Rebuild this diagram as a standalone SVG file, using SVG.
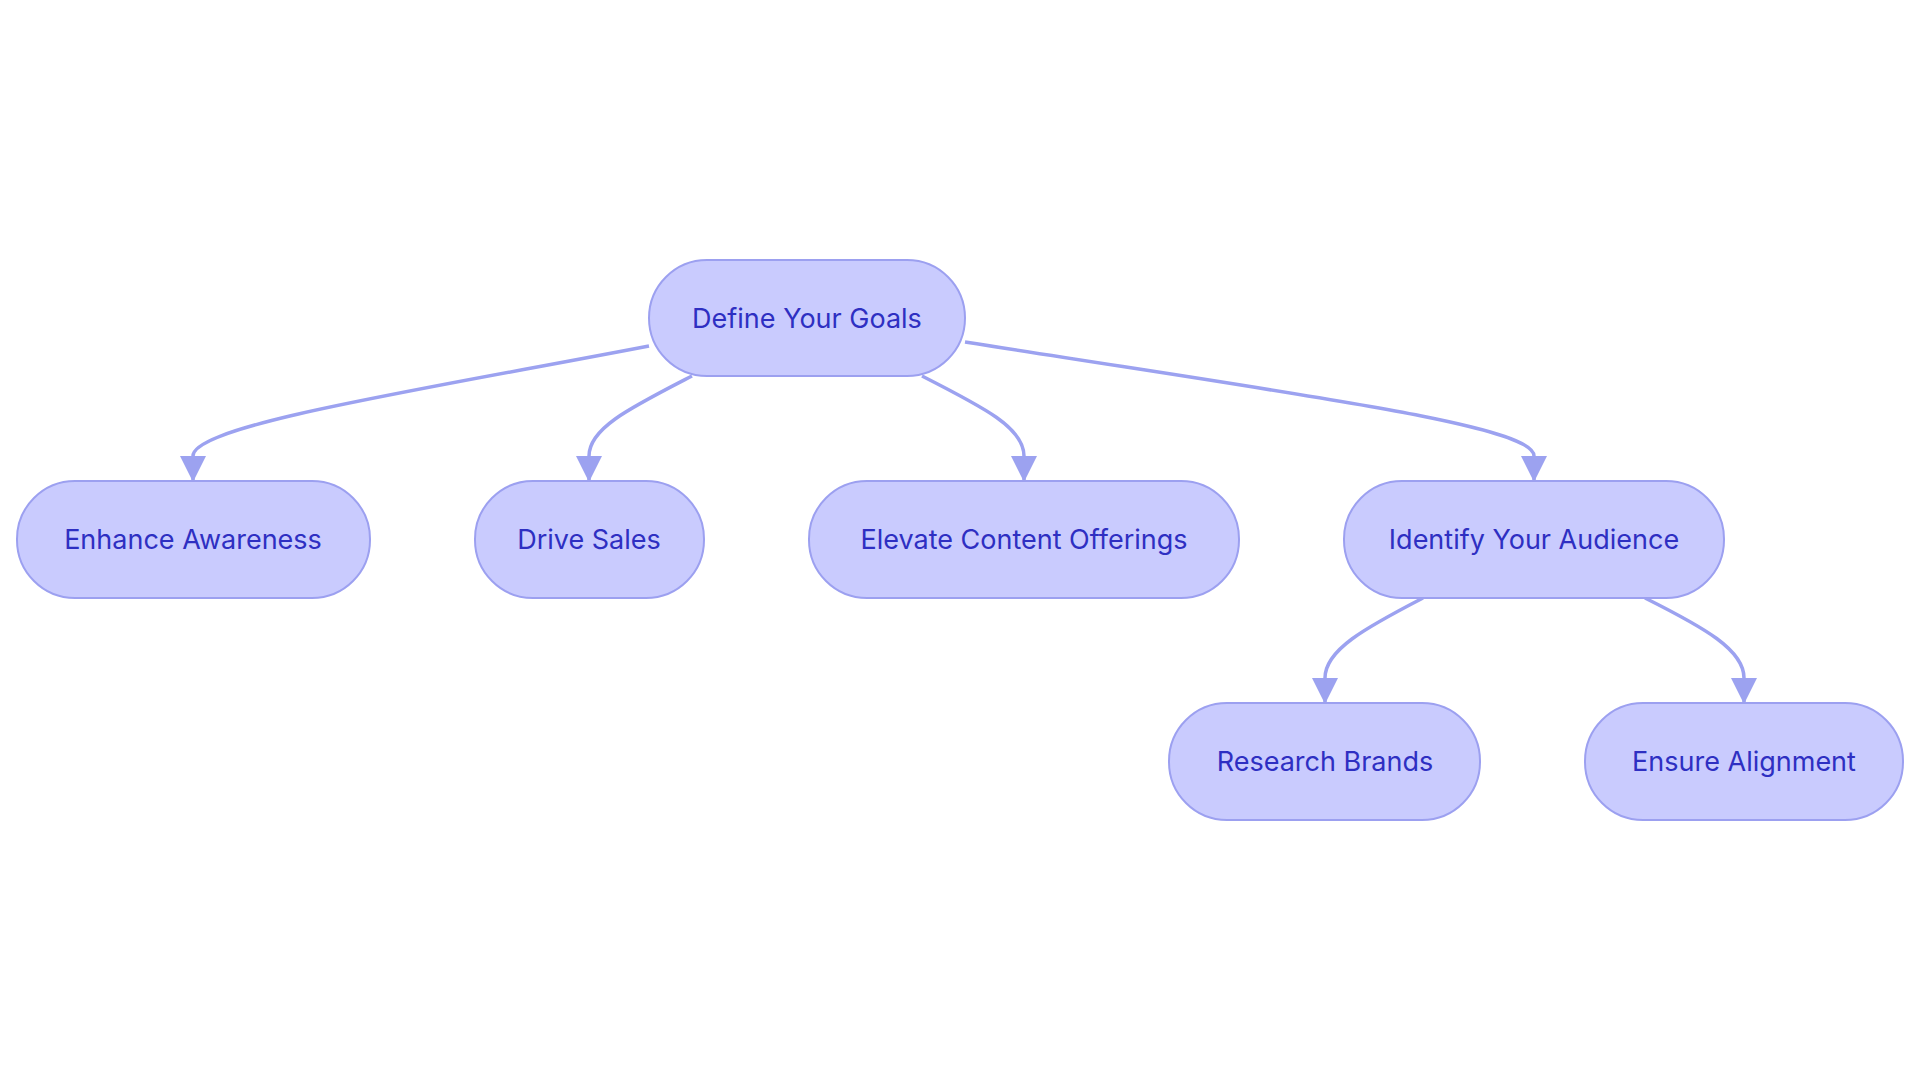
<svg xmlns="http://www.w3.org/2000/svg" width="1920" height="1083" viewBox="0 0 1920 1083">
<style>
.n rect{fill:#c9cbfe;stroke:#9ca0f0;stroke-width:2}
.n text{font-family:Inter,"Liberation Sans",sans-serif;font-size:27px;fill:#2e2fc2;text-anchor:middle;dominant-baseline:central}
.e path{fill:none;stroke:#9ca2f0;stroke-width:3.5;marker-end:url(#a)}
</style>
<defs><marker id="a" markerUnits="userSpaceOnUse" markerWidth="26" markerHeight="26" refX="24" refY="13" orient="auto" viewBox="0 0 26 26"><path d="M0,0 L26,13 L0,26 Z" fill="#9ca2f0"/></marker></defs>
<rect width="1920" height="1083" fill="#fff"/>
<g id="edges" class="e">
<path d="M649,346 C420,390 193,425 193,456 L193,480"/>
<path d="M692,376 C630,408 589,428 589,456 L589,480"/>
<path d="M922,376 C985,408 1024,428 1024,456 L1024,480"/>
<path d="M965,342 C1300,395 1534,425 1534,456 L1534,480"/>
<path d="M1423,598 C1365,628 1325,650 1325,678 L1325,702"/>
<path d="M1645,598 C1705,628 1744,650 1744,678 L1744,702"/>
</g>
<g id="n1" class="n"><rect x="649" y="260" width="316" height="116" rx="58"/><text x="807" y="318">Define Your Goals</text></g>
<g id="n2" class="n"><rect x="17" y="481" width="353" height="117" rx="58"/><text x="193" y="539">Enhance Awareness</text></g>
<g id="n3" class="n"><rect x="475" y="481" width="229" height="117" rx="58"/><text x="589" y="539">Drive Sales</text></g>
<g id="n4" class="n"><rect x="809" y="481" width="430" height="117" rx="58"/><text x="1024" y="539">Elevate Content Offerings</text></g>
<g id="n5" class="n"><rect x="1344" y="481" width="380" height="117" rx="58"/><text x="1534" y="539">Identify Your Audience</text></g>
<g id="n6" class="n"><rect x="1169" y="703" width="311" height="117" rx="58"/><text x="1325" y="761">Research Brands</text></g>
<g id="n7" class="n"><rect x="1585" y="703" width="318" height="117" rx="58"/><text x="1744" y="761">Ensure Alignment</text></g>
</svg>
